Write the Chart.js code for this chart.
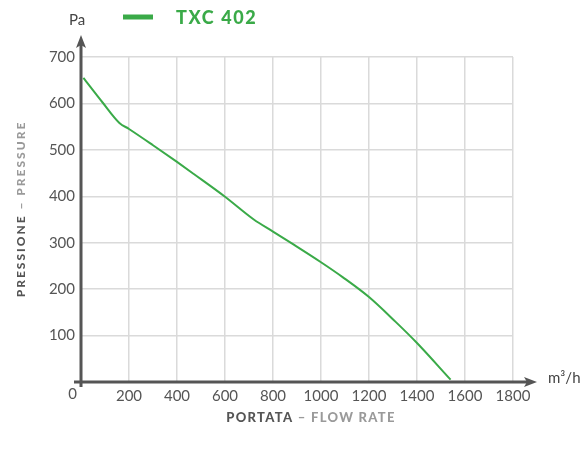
<!DOCTYPE html>
<html>
<head>
<meta charset="utf-8">
<script src="https://cdn.jsdelivr.net/npm/chart.js@4/dist/chart.umd.min.js"></script>
<style>
  html, body { margin: 0; padding: 0; background: #fff; }
  canvas { display: block; }
</style>
</head>
<body>
<canvas id="fan" width="585" height="459"></canvas>
<script>
// Fan curve TXC 402: flow rate (m³/h) vs static pressure (Pa)
const seriesName = 'TXC 402';
const flowRate = [10, 90, 160, 200, 300, 400, 470, 600, 720, 800, 880, 1000, 1090, 1200, 1310, 1400, 1540];
const pressure = [655, 602, 558, 545, 510, 474, 448, 399, 350, 324, 298, 258, 226, 183, 130, 84, 5];
const xTicks = [0, 200, 400, 600, 800, 1000, 1200, 1400, 1600, 1800];
const yTicks = [0, 100, 200, 300, 400, 500, 600, 700];

const GREEN = '#3aaa48';
const AXIS = '#555555';
const TEXT = '#555555';
const FONT = 'Lato, "Open Sans", sans-serif';

function arrow(ctx, x, y, dir) {
  ctx.beginPath();
  if (dir === 'up') {
    ctx.moveTo(x, y);
    ctx.lineTo(x - 5, y + 13);
    ctx.lineTo(x, y + 10);
    ctx.lineTo(x + 5, y + 13);
  } else {
    ctx.moveTo(x, y);
    ctx.lineTo(x - 13, y - 5);
    ctx.lineTo(x - 10, y);
    ctx.lineTo(x - 13, y + 5);
  }
  ctx.closePath();
  ctx.fill();
}

const decorations = {
  id: 'decorations',
  beforeDatasetsDraw(chart) {
    const { ctx, chartArea: a } = chart;
    ctx.save();
    ctx.strokeStyle = AXIS;
    ctx.fillStyle = AXIS;
    ctx.lineWidth = 3;
    // vertical axis with arrow
    ctx.beginPath();
    ctx.moveTo(a.left, a.bottom + 5);
    ctx.lineTo(a.left, a.top - 12);
    ctx.stroke();
    arrow(ctx, a.left, a.top - 22, 'up');
    // horizontal axis with arrow
    ctx.beginPath();
    ctx.moveTo(a.left - 7, a.bottom);
    ctx.lineTo(a.right + 14, a.bottom);
    ctx.stroke();
    arrow(ctx, a.right + 24, a.bottom, 'right');
    ctx.restore();
  },
  afterDraw(chart) {
    const { ctx, chartArea: a } = chart;
    ctx.save();
    ctx.textBaseline = 'middle';
    // origin, units
    ctx.fillStyle = TEXT;
    ctx.font = '15px ' + FONT;
    ctx.textAlign = 'right';
    ctx.fillText('0', a.left - 4, a.bottom + 12);
    ctx.textAlign = 'center';
    ctx.fillStyle = '#444';
    ctx.fillText('Pa', a.left - 4, 20);
    ctx.textAlign = 'left';
    ctx.fillText('m\u00B3/h', a.right + 35, a.bottom - 4);

    // legend
    ctx.strokeStyle = GREEN;
    ctx.lineWidth = 5;
    ctx.beginPath();
    ctx.moveTo(123, 17);
    ctx.lineTo(153, 17);
    ctx.stroke();
    ctx.fillStyle = GREEN;
    ctx.font = '900 18px ' + FONT;
    ctx.letterSpacing = '1.6px';
    ctx.fillText(seriesName, 176, 18);

    // x axis title
    ctx.font = '900 13px ' + FONT;
    ctx.letterSpacing = '1.3px';
    const p1 = 'PORTATA', p2 = ' \u2013 FLOW RATE';
    const w1 = ctx.measureText(p1).width, w2 = ctx.measureText(p2).width;
    let x0 = 311 - (w1 + w2) / 2;
    ctx.fillStyle = '#555';
    ctx.fillText(p1, x0, 418);
    ctx.fillStyle = '#9a9a9a';
    ctx.fillText(p2, x0 + w1, 418);

    // y axis title
    ctx.translate(21, 209);
    ctx.rotate(-Math.PI / 2);
    ctx.font = '900 12px ' + FONT;
    ctx.letterSpacing = '2px';
    const q1 = 'PRESSIONE', q2 = ' \u2013 PRESSURE';
    const v1 = ctx.measureText(q1).width, v2 = ctx.measureText(q2).width;
    x0 = -(v1 + v2) / 2;
    ctx.fillStyle = '#555';
    ctx.fillText(q1, x0, 0);
    ctx.fillStyle = '#9a9a9a';
    ctx.fillText(q2, x0 + v1, 0);
    ctx.restore();
  }
};

new Chart(document.getElementById('fan'), {
  type: 'line',
  data: {
    datasets: [{
      label: seriesName,
      data: flowRate.map((x, i) => ({ x, y: pressure[i] })),
      borderColor: GREEN,
      borderWidth: 2,
      pointRadius: 0,
      fill: false,
      cubicInterpolationMode: 'monotone'
    }]
  },
  options: {
    responsive: false,
    devicePixelRatio: 1,
    animation: false,
    layout: { padding: { left: 0, right: 72, top: 57, bottom: 0 } },
    plugins: { legend: { display: false }, tooltip: { enabled: false } },
    scales: {
      x: {
        type: 'linear',
        min: xTicks[0],
        max: xTicks[xTicks.length - 1],
        afterBuildTicks(s) { s.ticks = xTicks.map(v => ({ value: v })); },
        afterFit(s) { s.height = 77; },
        grid: { color: '#dadada', lineWidth: 1.5, drawTicks: false },
        border: { display: false },
        ticks: {
          padding: 5,
          color: TEXT,
          font: { family: FONT, size: 15 },
          maxRotation: 0,
          callback: v => (v === 0 ? '' : v)
        }
      },
      y: {
        type: 'linear',
        min: yTicks[0],
        max: yTicks[yTicks.length - 1],
        afterBuildTicks(s) { s.ticks = yTicks.map(v => ({ value: v })); },
        afterFit(s) { s.width = 81; },
        grid: { color: '#dadada', lineWidth: 1.5, drawTicks: false },
        border: { display: false },
        ticks: {
          padding: 6,
          color: TEXT,
          font: { family: FONT, size: 15 },
          callback: v => (v === 0 ? '' : v)
        }
      }
    }
  },
  plugins: [decorations]
});
</script>
</body>
</html>
